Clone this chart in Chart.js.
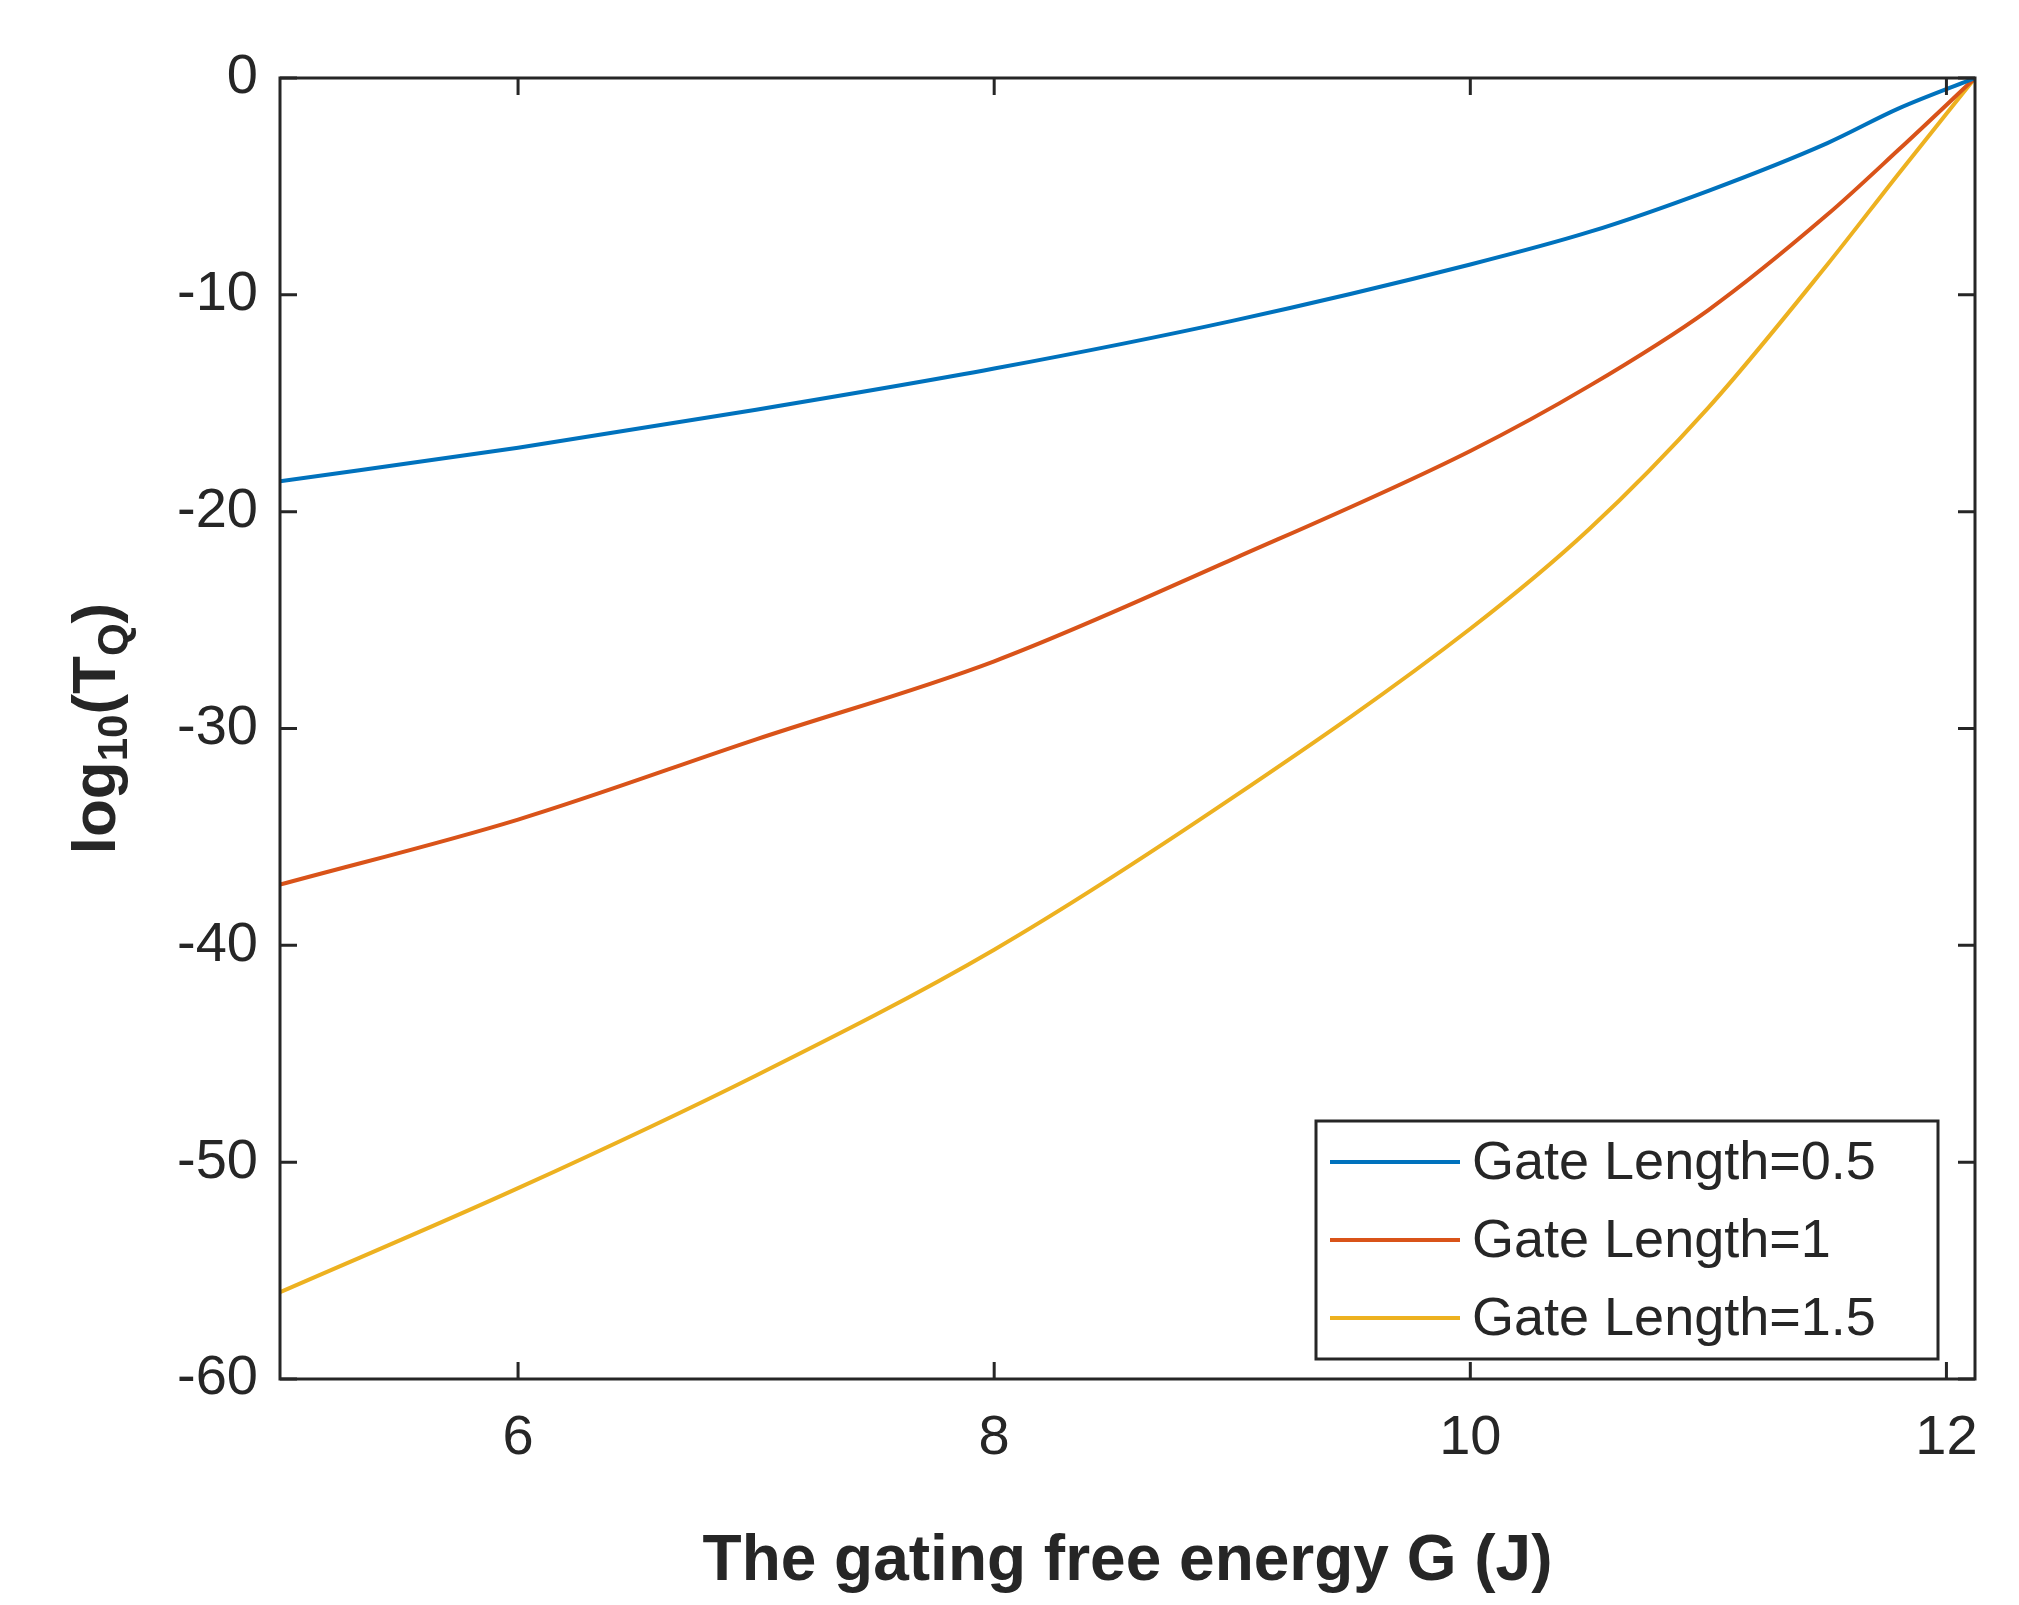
<!DOCTYPE html>
<html><head><meta charset="utf-8">
<script src="https://cdn.jsdelivr.net/npm/chart.js@4/dist/chart.umd.min.js"></script>
<style>html,body{margin:0;background:#fff}#wrap{width:2019px;height:1605px}</style>
</head><body><div id="wrap"><canvas id="c"></canvas></div>
<script>
// values
const gValues = [5, 6, 7, 8, 9, 10, 10.5, 11, 11.5, 11.8, 12.12];
const gate05 = [-18.6, -17.05, -15.3, -13.4, -11.2, -8.6, -7.1, -5.2, -3.0, -1.4, 0];
const gate1 = [-37.2, -34.2, -30.5, -26.9, -22.2, -17.2, -14.2, -10.7, -6.3, -3.3, 0];
const gate15 = [-56.0, -51.2, -46.0, -40.2, -33.2, -25.4, -20.8, -15.2, -8.6, -4.4, 0];
const seriesNames = ['Gate Length=0.5', 'Gate Length=1', 'Gate Length=1.5'];
const colors = ['#0072BD', '#D95319', '#EDB120'];
const xTicks = [6, 8, 10, 12];

const toPts = arr => arr.map((v, i) => ({ x: gValues[i], y: v }));
const font = 'Arial, "Liberation Sans", sans-serif';

// frame, inward ticks, y title with subscripts, legend box
const decor = {
    id: 'decor',
    afterDraw(chart) {
        const ctx = chart.ctx, a = chart.chartArea;
        const xs = chart.scales.x, ys = chart.scales.y;
        ctx.save();
        ctx.strokeStyle = '#262626';
        ctx.lineWidth = 3;
        ctx.strokeRect(a.left, a.top, a.right - a.left, a.bottom - a.top);
        xTicks.forEach(t => {
            const px = xs.getPixelForValue(t);
            ctx.beginPath();
            ctx.moveTo(px, a.bottom); ctx.lineTo(px, a.bottom - 17);
            ctx.moveTo(px, a.top); ctx.lineTo(px, a.top + 17);
            ctx.stroke();
        });
        for (let t = -60; t <= 0; t += 10) {
            const py = ys.getPixelForValue(t);
            ctx.beginPath();
            ctx.moveTo(a.left, py); ctx.lineTo(a.left + 17, py);
            ctx.moveTo(a.right, py); ctx.lineTo(a.right - 17, py);
            ctx.stroke();
        }
        // y title
        ctx.translate(95, (a.top + a.bottom) / 2);
        ctx.rotate(-Math.PI / 2);
        ctx.fillStyle = '#262626';
        ctx.textBaseline = 'alphabetic';
        const parts = [['log', 62, 0], ['10', 42, 12], ['(T', 62, 0], ['Q', 42, 12], [')', 62, 0]];
        let w = 0;
        parts.forEach(p => { ctx.font = 'bold ' + p[1] + 'px ' + font; w += ctx.measureText(p[0]).width; });
        let x = -w / 2;
        parts.forEach(p => {
            ctx.font = 'bold ' + p[1] + 'px ' + font;
            ctx.fillText(p[0], x, 20 + p[2]);
            x += ctx.measureText(p[0]).width;
        });
        ctx.restore();
        // legend
        ctx.save();
        const lx = 1316, ly = 1121, lw = 622, lh = 238;
        ctx.fillStyle = '#fff';
        ctx.fillRect(lx, ly, lw, lh);
        ctx.strokeStyle = '#262626';
        ctx.lineWidth = 3;
        ctx.strokeRect(lx, ly, lw, lh);
        ctx.font = '54px ' + font;
        ctx.textBaseline = 'middle';
        seriesNames.forEach((n, i) => {
            const yy = ly + 41 + i * 78;
            ctx.strokeStyle = colors[i];
            ctx.lineWidth = 4;
            ctx.beginPath(); ctx.moveTo(lx + 14, yy); ctx.lineTo(lx + 144, yy); ctx.stroke();
            ctx.fillStyle = '#262626';
            ctx.fillText(n, lx + 156, yy + 2);
        });
        ctx.restore();
    }
};

new Chart(document.getElementById('c'), {
    type: 'scatter',
    data: {
        datasets: [gate05, gate1, gate15].map((d, i) => ({
            label: seriesNames[i],
            data: toPts(d),
            showLine: true,
            borderColor: colors[i],
            borderWidth: 4,
            pointRadius: 0,
            cubicInterpolationMode: 'monotone'
        }))
    },
    options: {
        responsive: true,
        maintainAspectRatio: false,
        animation: false,
        layout: { padding: { top: 78, right: 44 } },
        plugins: { legend: { display: false }, tooltip: { enabled: false } },
        scales: {
            x: {
                type: 'linear', min: 5, max: 12.12,
                afterBuildTicks: s => { s.ticks = xTicks.map(v => ({ value: v })); },
                afterFit: s => { s.height = 226; },
                grid: { display: false },
                border: { display: false },
                ticks: { color: '#262626', font: { size: 56, family: font }, padding: 18 },
                title: { display: true, text: 'The gating free energy G (J)', color: '#262626',
                    font: { size: 64, weight: 'bold', family: font }, padding: { top: 0 } }
            },
            y: {
                min: -60, max: 0,
                afterFit: s => { s.width = 280; },
                grid: { display: false },
                border: { display: false },
                ticks: { stepSize: 10, color: '#262626', font: { size: 56, family: font }, padding: 14 }
            }
        }
    },
    plugins: [decor]
});
</script></body></html>
